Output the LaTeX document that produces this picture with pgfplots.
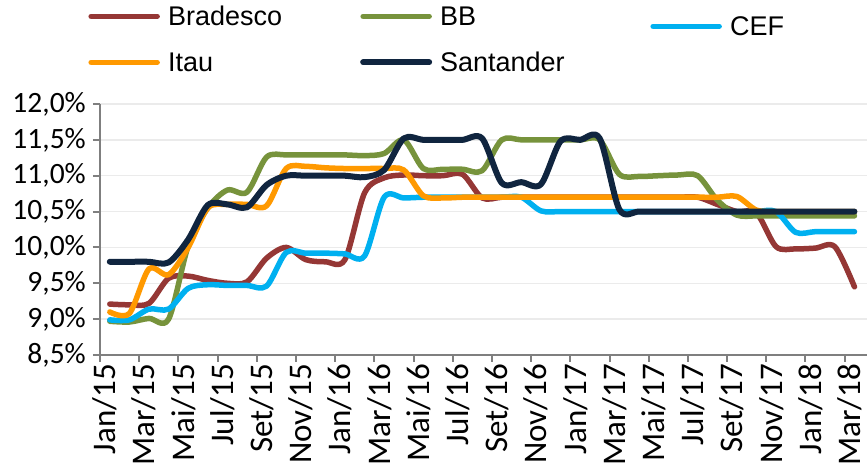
\documentclass[border=0pt]{standalone}
\usepackage{pgfplots}
\usepackage{pgfplotstable}
\pgfplotsset{compat=1.18}
\usepackage{fontspec}
\setmainfont{Carlito}
\newfontfamily\legfont{Liberation Sans}
\definecolor{cBra}{HTML}{953735}
\definecolor{cBB}{HTML}{77933C}
\definecolor{cCEF}{HTML}{00B0F0}
\definecolor{cItau}{HTML}{FF9900}
\definecolor{cSan}{HTML}{10253F}
\definecolor{axgray}{HTML}{7F7F7F}
\definecolor{gridgray}{HTML}{EBEBEB}

\pgfplotstableread{
m bra bb cef itau san
0 9.21 8.97 8.99 9.10 9.80
1 9.20 8.96 8.99 9.08 9.80
2 9.22 9.01 9.14 9.70 9.80
3 9.57 9.00 9.14 9.62 9.79
4 9.60 10.02 9.43 10.00 10.11
5 9.54 10.55 9.48 10.55 10.59
6 9.50 10.80 9.47 10.60 10.60
7 9.52 10.77 9.47 10.60 10.56
8 9.85 11.26 9.46 10.58 10.87
9 10.00 11.29 9.93 11.10 11.00
10 9.83 11.29 9.92 11.13 11.00
11 9.80 11.29 9.92 11.11 11.00
12 9.83 11.29 9.91 11.10 11.00
13 10.76 11.28 9.88 11.10 10.98
14 10.97 11.31 10.70 11.10 11.08
15 11.01 11.50 10.69 11.08 11.52
16 11.00 11.10 10.70 10.72 11.50
17 11.00 11.09 10.70 10.69 11.50
18 11.02 11.09 10.70 10.70 11.50
19 10.69 11.07 10.70 10.70 11.52
20 10.70 11.50 10.70 10.70 10.90
21 10.70 11.50 10.70 10.70 10.91
22 10.70 11.50 10.51 10.70 10.88
23 10.70 11.50 10.50 10.70 11.48
24 10.70 11.50 10.50 10.70 11.50
25 10.70 11.50 10.50 10.70 11.52
26 10.70 11.02 10.50 10.70 10.53
27 10.70 10.99 10.50 10.70 10.50
28 10.70 11.00 10.50 10.70 10.50
29 10.70 11.01 10.50 10.70 10.50
30 10.70 11.00 10.50 10.70 10.50
31 10.60 10.66 10.50 10.70 10.50
32 10.50 10.45 10.50 10.71 10.50
33 10.48 10.44 10.50 10.52 10.50
34 10.01 10.44 10.50 10.50 10.50
35 9.98 10.44 10.21 10.50 10.50
36 9.99 10.44 10.22 10.50 10.50
37 10.01 10.44 10.22 10.50 10.50
38 9.45 10.44 10.22 10.50 10.50
}\datatable

\begin{document}
\begin{tikzpicture}
\useasboundingbox (0,0) rectangle (867pt,470pt);
\begin{axis}[
  at={(100pt,115pt)}, anchor=south west,
  scale only axis, width=767pt, height=251pt,
  xmin=-0.5, xmax=38.64, ymin=8.5, ymax=12,
  axis x line*=bottom, axis y line*=left,
  axis line style={axgray, line width=2.5pt},
  tick align=outside, major tick length=7pt,
  tick style={axgray, line width=2pt},
  xtick={-0.5,1.5,...,37.5},
  xticklabels={Jan/15,Mar/15,Mai/15,Jul/15,Set/15,Nov/15,Jan/16,Mar/16,Mai/16,Jul/16,Set/16,Nov/16,Jan/17,Mar/17,Mai/17,Jul/17,Set/17,Nov/17,Jan/18,Mar/18},
  x tick label style={rotate=90, anchor=east, font=\fontsize{33}{33}\selectfont, inner sep=2pt, yshift=-5pt},
  ytick={8.5,9,9.5,10,10.5,11,11.5,12},
  yticklabels={{8,5\%},{9,0\%},{9,5\%},{10,0\%},{10,5\%},{11,0\%},{11,5\%},{12,0\%}},
  y tick label style={font=\fontsize{29.5}{29.5}\selectfont, inner sep=2pt, xshift=-5pt},
  ymajorgrids, grid style={gridgray, line width=1.5pt},
  legend columns=3,
  legend style={draw=none, fill=none, at={(axis description cs:-0.0157,1.398)}, anchor=north west,
    inner sep=0pt, column sep=0pt, row sep=12pt,
    font=\legfont\fontsize{27}{27}\selectfont,
    nodes={inner sep=0pt, text height=21pt, text depth=3pt, anchor=west}},
  legend image code/.code={\path[draw=none,fill=none] (0pt,-12pt) rectangle (80pt,12pt); \draw[#1] (3pt,0pt) -- (69pt,0pt);},
  every axis plot/.append style={line cap=round, line join=round, smooth, tension=0.5, no markers},
]
\addplot[cBra, line width=5.5pt] table[x=m, y=bra] {\datatable};
\addlegendentry[text width=192pt]{Bradesco}
\addplot[cBB, line width=5.5pt] table[x=m, y=bb] {\datatable};
\addlegendentry[text width=210pt]{BB}
\addplot[cCEF, line width=5.5pt, legend image code/.code={\path[draw=none,fill=none] (0pt,-12pt) rectangle (80pt,12pt); \draw[cCEF, line width=5.5pt, line cap=round] (3pt,-10pt) -- (69pt,-10pt);}] table[x=m, y=cef] {\datatable};
\addlegendentry[yshift=-10pt]{CEF}
\addplot[cItau, line width=5.5pt] table[x=m, y=itau] {\datatable};
\addlegendentry[text width=192pt]{Itau}
\addplot[cSan, line width=6pt] table[x=m, y=san] {\datatable};
\addlegendentry[text width=210pt]{Santander}
\end{axis}
\end{tikzpicture}
\end{document}
